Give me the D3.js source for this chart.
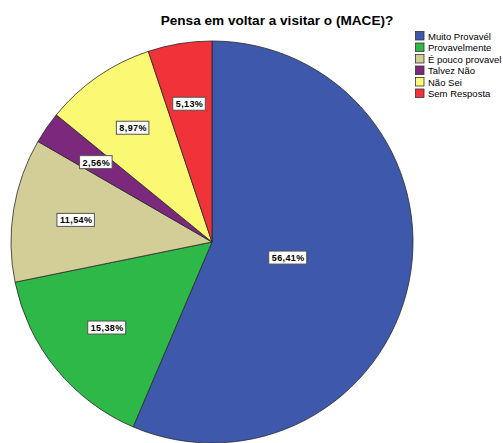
<!DOCTYPE html>
<html>
<head>
<meta charset="utf-8">
<script src="https://cdn.jsdelivr.net/npm/d3@7"></script>
<style>
  body { margin: 0; background: #fff; }
  svg { display: block; font-family: "Liberation Sans", Arial, sans-serif; }
</style>
</head>
<body>
<svg id="chart"></svg>
<script>
var categories = ['Muito Provavél', 'Provavelmente', 'É pouco provavel', 'Talvez Não', 'Não Sei', 'Sem Resposta'];
var percents = [56.41, 15.38, 11.54, 2.56, 8.97, 5.13];
var labels = ['56,41%', '15,38%', '11,54%', '2,56%', '8,97%', '5,13%'];
var colors = ['#3e58ac', '#2eb848', '#d3ce97', '#7c287d', '#fbf873', '#ef3338'];
var title = 'Pensa em voltar a visitar o (MACE)?';

var width = 503,
    height = 443,
    cx = 212,
    cy = 242,
    radius = 201;

var svg = d3.select('#chart').attr('width', width).attr('height', height);

svg.append('text')
    .attr('x', 277)
    .attr('y', 25)
    .attr('text-anchor', 'middle')
    .style('font-size', '13.6px')
    .style('font-weight', 'bold')
    .attr('fill', '#000')
    .text(title);

var pie = d3.pie().sort(null).value(function (d) { return d; });
var arcs = pie(percents);
var arc = d3.arc().innerRadius(0).outerRadius(radius);

var g = svg.append('g').attr('transform', 'translate(' + cx + ',' + cy + ')');

g.selectAll('path')
    .data(arcs)
    .enter()
    .append('path')
    .attr('d', arc)
    .attr('fill', function (d, i) { return colors[i]; })
    .attr('stroke', '#2a2a2a')
    .attr('stroke-width', 0.8)
    .attr('stroke-linejoin', 'round');

// labels sit near the area centroid of each slice
function labelPos(d) {
    var theta = d.endAngle - d.startAngle;
    var mid = (d.startAngle + d.endAngle) / 2;
    var dist = (4 * radius * Math.sin(theta / 2)) / (3 * theta) * 1.05;
    return [dist * Math.sin(mid), -dist * Math.cos(mid)];
}

var lab = g.selectAll('g.lab')
    .data(arcs)
    .enter()
    .append('g')
    .attr('class', 'lab')
    .attr('transform', function (d) { return 'translate(' + labelPos(d) + ')'; });

lab.append('text')
    .attr('text-anchor', 'middle')
    .attr('y', 3.5)
    .style('font-size', '9px')
    .style('font-weight', 'bold')
    .style('letter-spacing', '0.4px')
    .attr('fill', '#000')
    .text(function (d, i) { return labels[i]; });

lab.each(function () {
    var t = d3.select(this).select('text');
    var bb = t.node().getBBox();
    d3.select(this).insert('rect', 'text')
        .attr('x', bb.x - 3)
        .attr('y', -6.5)
        .attr('width', bb.width + 5)
        .attr('height', 13)
        .attr('fill', '#fff')
        .attr('stroke', '#555')
        .attr('stroke-width', 1);
});

var legend = svg.append('g').attr('transform', 'translate(415,31)');

var rows = legend.selectAll('g')
    .data(categories)
    .enter()
    .append('g')
    .attr('transform', function (d, i) { return 'translate(0,' + i * 11.5 + ')'; });

rows.append('rect')
    .attr('x', 0.5)
    .attr('y', 0.5)
    .attr('width', 8.5)
    .attr('height', 8.5)
    .attr('fill', function (d, i) { return colors[i]; })
    .attr('stroke', '#333')
    .attr('stroke-width', 0.8);

rows.append('text')
    .attr('x', 13)
    .attr('y', 8.5)
    .style('font-size', '9.5px')
    .attr('fill', '#000')
    .text(function (d) { return d; });
</script>
</body>
</html>
